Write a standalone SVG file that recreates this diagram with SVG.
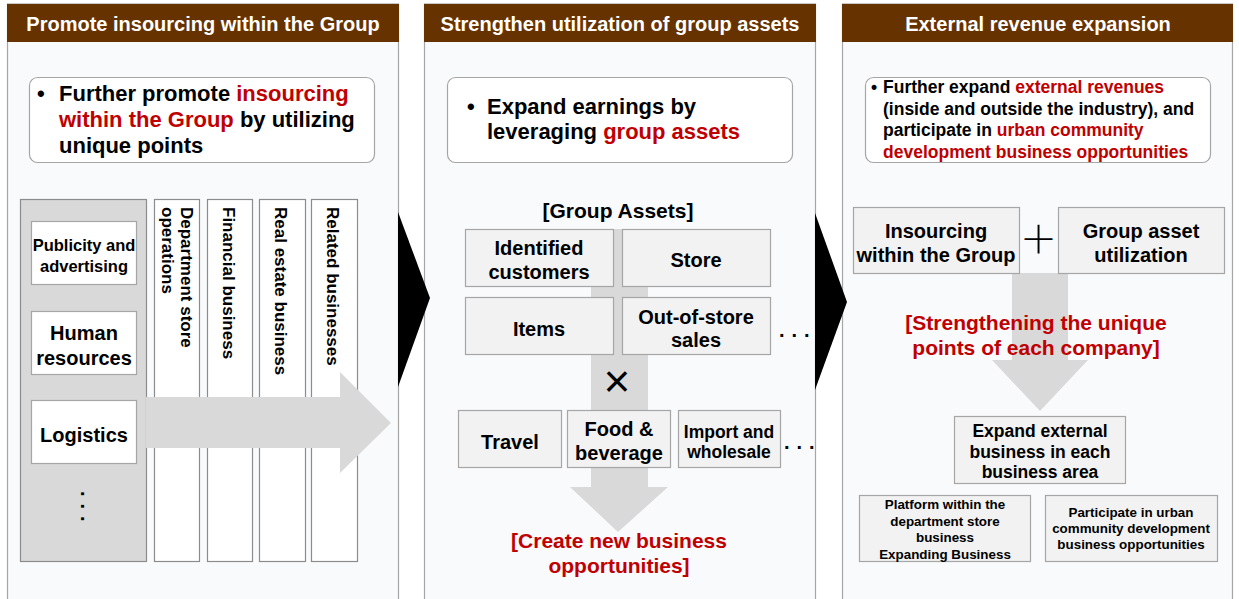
<svg xmlns="http://www.w3.org/2000/svg" width="1239" height="599" viewBox="0 0 1239 599">
  <style>
    text { font-family: "Liberation Sans", Arial, sans-serif; font-weight: bold; fill: #000; }
    .hdr { fill: #663300; }
    .hdr-t { fill: #fff; font-size: 20px; text-anchor: middle; }
    .panel { fill: #f9fafc; stroke: #a6a6a6; stroke-width: 1.2; }
    .bullet { fill: #fff; stroke: #a6a6a6; stroke-width: 1.2; }
    .box { fill: #f2f2f2; stroke: #a6a6a6; stroke-width: 1.2; }
    .wbox { fill: #fff; stroke: #a6a6a6; stroke-width: 1.2; }
    .col { fill: #fff; stroke: #8c8c8c; stroke-width: 1.2; }
    .gbox { fill: #d9d9d9; stroke: #8c8c8c; stroke-width: 1.2; }
    .flow { fill: #d9d9d9; }
    .chev { fill: #000; }
    .red { fill: #c00000; }
    .c { text-anchor: middle; }
    .thin { font-weight: normal; }
    .op { font-family: "Noto Sans CJK JP", "Liberation Sans", sans-serif; font-weight: 300; }
    .dots { font-size: 20px; letter-spacing: 7px; }
  </style>

  <!-- panel backgrounds and headers -->
  <g id="panel-insourcing">
    <rect class="panel" x="7.5" y="4" width="391" height="610"/>
    <rect class="hdr" x="7" y="4" width="392" height="38"/>
    <text class="hdr-t" x="203" y="31">Promote insourcing within the Group</text>
  </g>
  <g id="panel-assets">
    <rect class="panel" x="424.5" y="4" width="391" height="610"/>
    <rect class="hdr" x="424" y="4" width="392" height="38"/>
    <text class="hdr-t" x="620" y="31">Strengthen utilization of group assets</text>
  </g>
  <g id="panel-external">
    <rect class="panel" x="842.5" y="4" width="390" height="610"/>
    <rect class="hdr" x="842" y="4" width="391" height="38"/>
    <text class="hdr-t" x="1038" y="31">External revenue expansion</text>
  </g>

  <!-- arrows between and within the columns -->
  <g id="connectors">
    <polygon class="chev" points="398,212 430,298 398,387"/>
    <polygon class="chev" points="815,213 847,302 815,390"/>
    <polygon class="flow" points="591,229 648,229 648,487 668,487 618,532 570,487 591,487"/>
    <polygon class="flow" points="1012,273 1068,273 1068,360 1088,360 1040,411 992,360 1012,360"/>
  </g>

  <!-- left column -->
  <g id="bullet-insourcing">
    <rect class="bullet" x="29.5" y="77.5" width="345" height="85" rx="8"/>
    <text x="37" y="101" font-size="22">•</text>
    <text x="59" y="101" font-size="22">Further promote <tspan class="red">insourcing</tspan></text>
    <text x="59" y="127" font-size="22"><tspan class="red">within the Group</tspan> by utilizing</text>
    <text x="59" y="153" font-size="22">unique points</text>
  </g>
  <g id="functions">
    <rect class="gbox" x="20.5" y="199.5" width="126" height="362"/>
  </g>
  <g id="col-department">
    <rect class="col" x="154.5" y="199.5" width="45" height="362"/>
    <text font-size="17" transform="translate(180.5,207) rotate(90)">Department store</text>
    <text font-size="17" transform="translate(161.5,207) rotate(90)">operations</text>
  </g>
  <g id="col-financial">
    <rect class="col" x="207.5" y="199.5" width="45" height="362"/>
    <text font-size="17" transform="translate(222.5,207) rotate(90)">Financial business</text>
  </g>
  <g id="col-realestate">
    <rect class="col" x="259.5" y="199.5" width="46" height="362"/>
    <text font-size="17" transform="translate(275,207) rotate(90)">Real estate business</text>
  </g>
  <g id="col-related">
    <rect class="col" x="311.5" y="199.5" width="46" height="362"/>
    <text font-size="17" transform="translate(327,207) rotate(90)">Related businesses</text>
  </g>
  <g id="insourcing-arrow">
    <polygon class="flow" points="146,397 340,397 340,372 391,423 340,473 340,448 146,448"/>
  </g>
  <g id="fn-publicity">
    <rect class="wbox" x="31.5" y="221.5" width="105" height="63"/>
    <text class="c" x="84" y="251" font-size="16.5">Publicity and</text>
    <text class="c" x="84" y="272" font-size="16.5">advertising</text>
  </g>
  <g id="fn-hr">
    <rect class="wbox" x="31.5" y="311.5" width="105" height="63"/>
    <text class="c" x="84" y="340" font-size="20">Human</text>
    <text class="c" x="84" y="365" font-size="20">resources</text>
  </g>
  <g id="fn-logistics">
    <rect class="wbox" x="31.5" y="400.5" width="105" height="63"/>
    <text class="c" x="84" y="442" font-size="20">Logistics</text>
  </g>
  <g id="fn-more">
    <text class="dots" transform="translate(81,491) rotate(90)">...</text>
  </g>

  <!-- middle column -->
  <g id="bullet-assets">
    <rect class="bullet" x="447.5" y="77.5" width="345" height="85" rx="8"/>
    <text x="467" y="114" font-size="22">•</text>
    <text x="487" y="114" font-size="22">Expand earnings by</text>
    <text x="487" y="139" font-size="22">leveraging <tspan class="red">group assets</tspan></text>
  </g>
  <g id="group-assets-title">
    <text class="c" x="618" y="218" font-size="21">[Group Assets]</text>
  </g>
  <g id="asset-customers">
    <rect class="box" x="465.5" y="229.5" width="148" height="57"/>
    <text class="c" x="539" y="255" font-size="20">Identified</text>
    <text class="c" x="539" y="279" font-size="20">customers</text>
  </g>
  <g id="asset-store">
    <rect class="box" x="622.5" y="229.5" width="148" height="57"/>
    <text class="c" x="696" y="267" font-size="20">Store</text>
  </g>
  <g id="asset-items">
    <rect class="box" x="465.5" y="297.5" width="148" height="57"/>
    <text class="c" x="539" y="336" font-size="20">Items</text>
  </g>
  <g id="asset-outofstore">
    <rect class="box" x="622.5" y="297.5" width="148" height="57"/>
    <text class="c" x="696" y="324" font-size="20">Out-of-store</text>
    <text class="c" x="696" y="347" font-size="20">sales</text>
  </g>
  <g id="asset-more">
    <text class="dots" x="779" y="337">...</text>
  </g>
  <g id="times">
    <text class="c thin" x="617" y="397" font-size="46">×</text>
  </g>
  <g id="biz-travel">
    <rect class="box" x="458.5" y="410.5" width="103" height="57"/>
    <text class="c" x="510" y="449" font-size="20">Travel</text>
  </g>
  <g id="biz-food">
    <rect class="box" x="567.5" y="410.5" width="103" height="57"/>
    <text class="c" x="619" y="436" font-size="20">Food &amp;</text>
    <text class="c" x="619" y="460" font-size="20">beverage</text>
  </g>
  <g id="biz-import">
    <rect class="box" x="678.5" y="410.5" width="102" height="57"/>
    <text class="c" x="729" y="438" font-size="17.5">Import and</text>
    <text class="c" x="729" y="458" font-size="17.5">wholesale</text>
  </g>
  <g id="biz-more">
    <text class="dots" x="784" y="449">...</text>
  </g>
  <g id="new-business">
    <text class="c red" x="619" y="548" font-size="21">[Create new business</text>
    <text class="c red" x="619" y="573" font-size="21">opportunities]</text>
  </g>

  <!-- right column -->
  <g id="bullet-external">
    <rect class="bullet" x="865.5" y="77.5" width="345" height="85" rx="8"/>
    <text x="871" y="93" font-size="17.5">•</text>
    <text x="883" y="93" font-size="17.5">Further expand <tspan class="red">external revenues</tspan></text>
    <text x="883" y="114.5" font-size="17.5">(inside and outside the industry), and</text>
    <text x="883" y="136" font-size="17.5">participate in <tspan class="red">urban community</tspan></text>
    <text x="883" y="157.5" font-size="17.5" class="red">development business opportunities</text>
  </g>
  <g id="ext-insourcing">
    <rect class="box" x="853.5" y="207.5" width="166" height="66"/>
    <text class="c" x="936" y="238" font-size="20">Insourcing</text>
    <text class="c" x="936" y="262" font-size="20">within the Group</text>
  </g>
  <g id="plus">
    <text class="c op" x="1038.5" y="253" font-size="38">＋</text>
  </g>
  <g id="ext-assets">
    <rect class="box" x="1058.5" y="207.5" width="166" height="66"/>
    <text class="c" x="1141" y="238" font-size="20">Group asset</text>
    <text class="c" x="1141" y="262" font-size="20">utilization</text>
  </g>
  <g id="unique-points">
    <text class="c red" x="1036" y="330" font-size="21">[Strengthening the unique</text>
    <text class="c red" x="1036" y="355" font-size="21">points of each company]</text>
  </g>
  <g id="ext-expand">
    <rect class="box" x="954.5" y="416.5" width="171" height="67"/>
    <text class="c" x="1040" y="437" font-size="17.5">Expand external</text>
    <text class="c" x="1040" y="458" font-size="17.5">business in each</text>
    <text class="c" x="1040" y="478" font-size="17.5">business area</text>
  </g>
  <g id="ext-platform">
    <rect class="box" x="859.5" y="495.5" width="171" height="66"/>
    <text class="c" x="945" y="509" font-size="13.4">Platform within the</text>
    <text class="c" x="945" y="525.5" font-size="13.4">department store</text>
    <text class="c" x="945" y="542" font-size="13.4">business</text>
    <text class="c" x="945" y="558.5" font-size="13.4">Expanding Business</text>
  </g>
  <g id="ext-urban">
    <rect class="box" x="1045.5" y="495.5" width="172" height="66"/>
    <text class="c" x="1131" y="517" font-size="13.4">Participate in urban</text>
    <text class="c" x="1131" y="533" font-size="13.4">community development</text>
    <text class="c" x="1131" y="549" font-size="13.4">business opportunities</text>
  </g>
</svg>
